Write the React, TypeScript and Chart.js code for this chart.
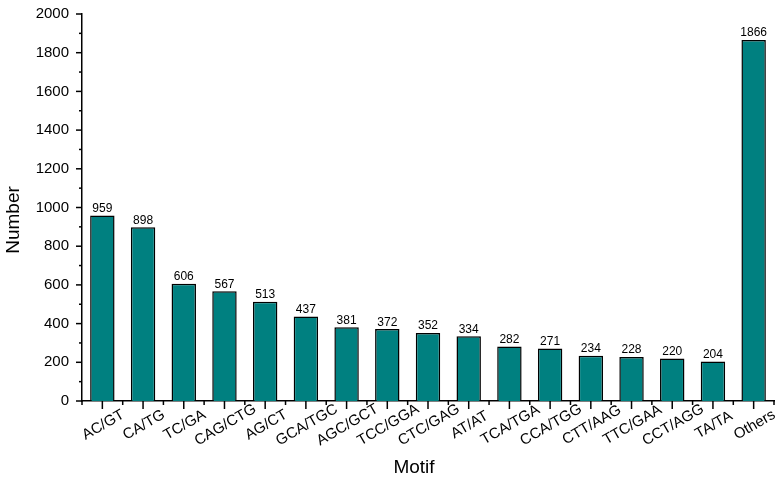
import React, { useEffect, useRef } from "react";
import { Chart, registerables } from "chart.js";

Chart.register(...registerables);

const motifs = [
  "AC/GT", "CA/TG", "TC/GA", "CAG/CTG", "AG/CT", "GCA/TGC", "AGC/GCT", "TCC/GGA",
  "CTC/GAG", "AT/AT", "TCA/TGA", "CCA/TGG", "CTT/AAG", "TTC/GAA", "CCT/AGG", "TA/TA", "Others",
];
const counts = [959, 898, 606, 567, 513, 437, 381, 372, 352, 334, 282, 271, 234, 228, 220, 204, 1866];
const yMin = 0;
const yMax = 2000;
const yMajorStep = 200;
const yMinorStep = 100;
const xTitle = "Motif";
const yTitle = "Number";

const FONT = "'Liberation Sans', Arial, sans-serif";

const decorPlugin = {
  id: "decor",
  afterDraw(chart: any) {
    const ctx = chart.ctx as CanvasRenderingContext2D;
    const xs = chart.scales.x;
    const ys = chart.scales.y;
    const { left, bottom } = chart.chartArea;
    ctx.save();
    ctx.strokeStyle = "#000";
    ctx.lineWidth = 1.5;
    // y ticks
    for (let v = yMin; v <= yMax; v += yMinorStep) {
      const py = ys.getPixelForValue(v);
      const len = v % yMajorStep === 0 ? 6 : 3;
      ctx.beginPath();
      ctx.moveTo(left, py);
      ctx.lineTo(left - len, py);
      ctx.stroke();
    }
    // x ticks
    for (let i = 0; i < motifs.length; i++) {
      const pc = xs.getPixelForValue(i);
      ctx.beginPath();
      ctx.moveTo(pc, bottom);
      ctx.lineTo(pc, bottom + 8);
      ctx.stroke();
    }
    for (let i = 0; i <= motifs.length; i++) {
      const pb = xs.getPixelForValue(i - 0.5);
      ctx.beginPath();
      ctx.moveTo(pb, bottom);
      ctx.lineTo(pb, bottom + 4);
      ctx.stroke();
    }
    // x labels
    ctx.fillStyle = "#000";
    ctx.font = `15px ${FONT}`;
    ctx.textAlign = "center";
    ctx.textBaseline = "middle";
    for (let i = 0; i < motifs.length; i++) {
      const pc = xs.getPixelForValue(i);
      ctx.save();
      ctx.translate(pc + 1, bottom + 24);
      ctx.rotate((-30 * Math.PI) / 180);
      ctx.fillText(motifs[i], 0, 0);
      ctx.restore();
    }
    // value labels
    ctx.font = `12px ${FONT}`;
    ctx.textBaseline = "alphabetic";
    const meta = chart.getDatasetMeta(0);
    meta.data.forEach((el: any, i: number) => {
      ctx.fillText(String(counts[i]), el.x, el.y - 3.5);
    });
    // titles
    ctx.font = `19px ${FONT}`;
    ctx.textBaseline = "middle";
    ctx.fillText(xTitle, 414, 468);
    ctx.save();
    ctx.translate(14, 220);
    ctx.rotate(-Math.PI / 2);
    ctx.fillText(yTitle, 0, 0);
    ctx.restore();
    ctx.restore();
  },
};

export default function App() {
  const ref = useRef<HTMLCanvasElement | null>(null);
  useEffect(() => {
    if (!ref.current) return;
    const chart = new Chart(ref.current, {
      type: "bar",
      data: {
        labels: motifs,
        datasets: [
          {
            data: counts,
            backgroundColor: "#008080",
            borderColor: "#000",
            borderWidth: 1.5,
            categoryPercentage: 1,
            barPercentage: 0.6,
          },
        ],
      },
      options: {
        responsive: false,
        animation: false,
        layout: { padding: { left: 0, top: 14, right: 8, bottom: 0 } },
        plugins: { legend: { display: false }, tooltip: { enabled: false } },
        scales: {
          x: {
            grid: { display: false, drawTicks: false },
            border: { display: true, color: "#000", width: 1.5 },
            ticks: { display: false },
            afterFit: (s: any) => {
              s.height = 77;
              s.paddingLeft = 0;
              s.paddingRight = 0;
            },
          },
          y: {
            min: yMin,
            max: yMax,
            grid: { display: false, drawTicks: false },
            border: { display: true, color: "#000", width: 1.5 },
            ticks: {
              stepSize: yMajorStep,
              color: "#000",
              padding: 13,
              font: { family: FONT, size: 15 },
              callback: (v: any) => String(v),
            },
            afterFit: (s: any) => {
              s.width = 82;
              s.paddingTop = 0;
              s.paddingBottom = 0;
            },
          },
        },
      },
      plugins: [decorPlugin],
    } as any);
    return () => chart.destroy();
  }, []);
  return (
    <canvas
      ref={ref}
      width={782}
      height={478}
      style={{ position: "fixed", left: 0, top: 0, display: "block", width: 782, height: 478 }}
    />
  );
}
